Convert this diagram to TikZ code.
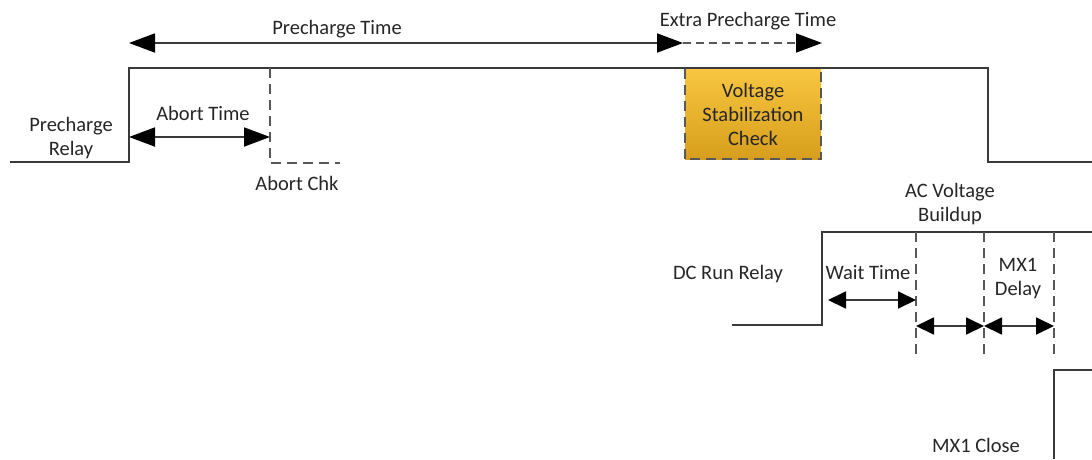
\documentclass[tikz,border=0pt]{standalone}
\usepackage{fontspec}
\setmainfont{Carlito}
\usepackage{xcolor}
\usetikzlibrary{arrows.meta, positioning}

\definecolor{linegray}{HTML}{3A3A3A}
\definecolor{goldtop}{HTML}{F8C640}
\definecolor{goldbot}{HTML}{D69E1C}

\begin{document}
\begin{tikzpicture}[
    x=1pt, y=-1pt,
    signal/.style={line width=2pt, draw=linegray},
    guide/.style={line width=1.6pt, draw=linegray!85, dash pattern=on 10pt off 6pt},
    bighead/.tip={Triangle[length=26pt,width=19pt,fill=black,color=black]},
    head/.tip={Triangle[length=18pt,width=17pt,fill=black,color=black]},
    bigspan/.style={bighead-bighead, line width=1.8pt, draw=linegray},
    span/.style={head-head, line width=1.8pt, draw=linegray},
    lbl/.style={font=\fontsize{20.5}{24}\selectfont, text=black!85, align=center, inner sep=1pt},
    checkbox/.style={lbl, rectangle, minimum width=136pt, minimum height=90pt, top color=goldtop, bottom color=goldbot}
]
\useasboundingbox (0,0) rectangle (1092,459);

% precharge relay
\coordinate (pr0) at (10,162);
\coordinate (pr1) at (129,162);
\coordinate (pr2) at (129,68);
\coordinate (pr3) at (988,68);
\coordinate (pr4) at (988,162);
\coordinate (pr5) at (1092,162);
\node[checkbox] (vsc) at (753,114) {Voltage\\Stabilization\\Check};
\draw[guide] (vsc.north west) -- (vsc.south west) -- (vsc.south east) -- (vsc.north east);
\draw[signal] (pr0) -- (pr1) -- (pr2) -- (pr3) -- (pr4) -- (pr5);
\node[lbl] (prelay) at (71,138) {Precharge\\Relay};

% precharge time
\coordinate (pt0) at (129,43);
\coordinate (pt1) at (683,43);
\coordinate (pt2) at (822,43);
\draw[bigspan] (pt0) -- (pt1);
\draw[guide, -bighead, dash pattern=on 8pt off 5pt] (pt1) -- (pt2);
\node[lbl] (ptime) at (337,29) {Precharge Time};
\node[lbl] (xtime) at (748,21) {Extra Precharge Time};

% abort
\coordinate (ab0) at (270,68);
\coordinate (ab1) at (270,163);
\coordinate (ab2) at (340,163);
\coordinate (ab3) at (129,137);
\coordinate (ab4) at (270,137);
\draw[guide] (ab0) -- (ab1) -- (ab2);
\draw[bigspan] (ab3) -- (ab4);
\node[lbl] (atime) at (203,113) {Abort Time};
\node[lbl] (achk) at (297,183) {Abort Chk};

% dc run relay
\coordinate (dc0) at (732,325);
\coordinate (dc1) at (822,325);
\coordinate (dc2) at (822,232);
\coordinate (dc3) at (1092,232);
\draw[signal] (dc0) -- (dc1) -- (dc2) -- (dc3);
\node[lbl] (dcrelay) at (728,274) {DC Run Relay};

\foreach \x/\n in {916/g1, 984/g2, 1054/g3} {
  \coordinate (\n t) at (\x,232);
  \coordinate (\n b) at (\x,357);
  \coordinate (\n m) at (\x,326);
  \draw[guide] (\n t) -- (\n b);
}
\coordinate (wt0) at (828,300);
\coordinate (wt1) at (916,300);
\draw[span] (wt0) -- (wt1);
\draw[span] (g1m) -- (g2m);
\draw[span] (g2m) -- (g3m);
\node[lbl] (wtime) at (868,273) {Wait Time};
\node[lbl] (acbuild) at (950,204) {AC Voltage\\Buildup};
\node[lbl] (mxdelay) at (1018,279) {MX1\\Delay};

% mx1 close
\coordinate (mx0) at (1054,459);
\coordinate (mx1) at (1054,370);
\coordinate (mx2) at (1092,370);
\draw[signal] (mx0) -- (mx1) -- (mx2);
\node[lbl] (mxclose) at (976,445) {MX1 Close};
\end{tikzpicture}
\end{document}
